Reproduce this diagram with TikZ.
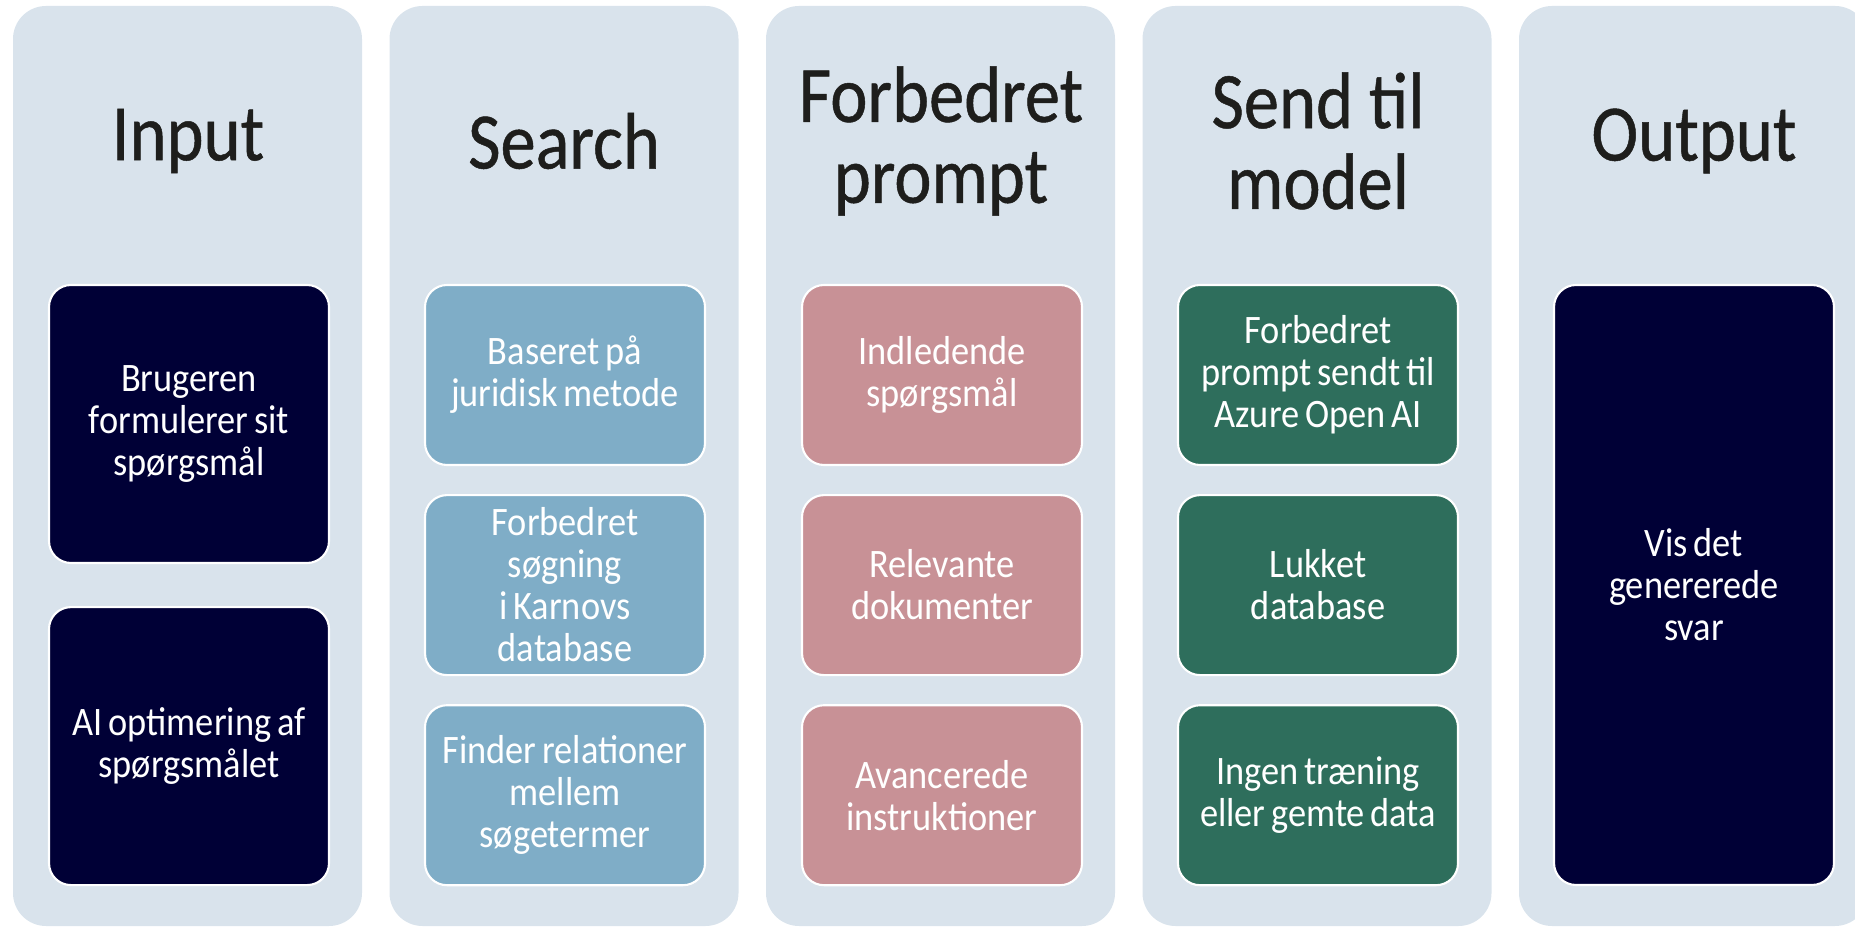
\documentclass[tikz,border=0pt]{standalone}
\usepackage{fontspec}
\setmainfont[FakeStretch=0.9,WordSpace=0.7]{Carlito}
\newfontfamily\headfont[FakeStretch=0.88,FakeBold=0.6]{Carlito}
\usepackage{tikz}
\usetikzlibrary{positioning}

\definecolor{colbg}{RGB}{217,227,236}
\definecolor{titleink}{RGB}{30,30,28}
\definecolor{navy}{RGB}{0,0,54}
\definecolor{searchblue}{RGB}{127,173,199}
\definecolor{promptpink}{RGB}{200,145,150}
\definecolor{modelgreen}{RGB}{46,110,92}

\begin{document}
\begin{tikzpicture}[x=0.1mm,y=-0.1mm,
  column/.style={fill=colbg, rounded corners=3.3mm},
  coltitle/.style={font=\headfont\fontsize{22.8}{23}\selectfont, text=titleink, align=center, inner sep=0pt},
  card/.style={rounded corners=2.2mm, draw=white, line width=0.6pt, text=white,
    align=center, inner sep=0pt, minimum width=28mm, minimum height=18mm,
    font=\fontsize{11.5}{11.95}\selectfont},
  tallcard/.style={card, minimum height=27.8mm},
  node distance=2.8mm
]
  % Define the page
  \useasboundingbox (0,0) rectangle (1855,927);
  \clip (0,0) rectangle (1855,927);

  % Define the width of the columns
  \def\colw{349}

  % Draw the columns
  \foreach \i in {0,...,4} {
    \fill[column] ({13+376.5*\i},6) rectangle ++(\colw,920);
  }

  % Column titles
  \node[coltitle] (tInput)  at (188,141) {Input};
  \node[coltitle] (tSearch) at (564,141) {Search};
  \node[coltitle] (tPrompt) at (941,141) {Forbedret\\prompt};
  \node[coltitle] (tModel)  at (1318,141) {Send til\\model};
  \node[coltitle] (tOutput) at (1694,141) {Output};

  % Input
  \node[tallcard, fill=navy] (in1) at (189,424) {Brugeren\\formulerer sit\\spørgsmål};
  \node[tallcard, fill=navy, below=4.2mm of in1] (in2) {AI optimering af\\spørgsmålet};

  % Search
  \node[card, fill=searchblue] (se1) at (565,375) {Baseret på\\juridisk metode};
  \node[card, fill=searchblue, below=of se1] (se2) {Forbedret\\søgning\\i Karnovs\\database};
  \node[card, fill=searchblue, below=of se2] (se3) {Finder relationer\\mellem\\søgetermer};

  % Forbedret prompt
  \node[card, fill=promptpink] (pr1) at (942,375) {Indledende\\spørgsmål};
  \node[card, fill=promptpink, below=of pr1] (pr2) {Relevante\\dokumenter};
  \node[card, fill=promptpink, below=of pr2] (pr3) {Avancerede\\instruktioner};

  % Send til model
  \node[card, fill=modelgreen] (mo1) at (1318,375) {Forbedret\\prompt sendt til\\Azure Open AI};
  \node[card, fill=modelgreen, below=of mo1] (mo2) {Lukket\\database};
  \node[card, fill=modelgreen, below=of mo2] (mo3) {Ingen træning\\eller gemte data};

  % Output
  \node[card, fill=navy, minimum height=60mm] (out1) at (1694,585) {Vis det\\genererede\\svar};

\end{tikzpicture}
\end{document}
